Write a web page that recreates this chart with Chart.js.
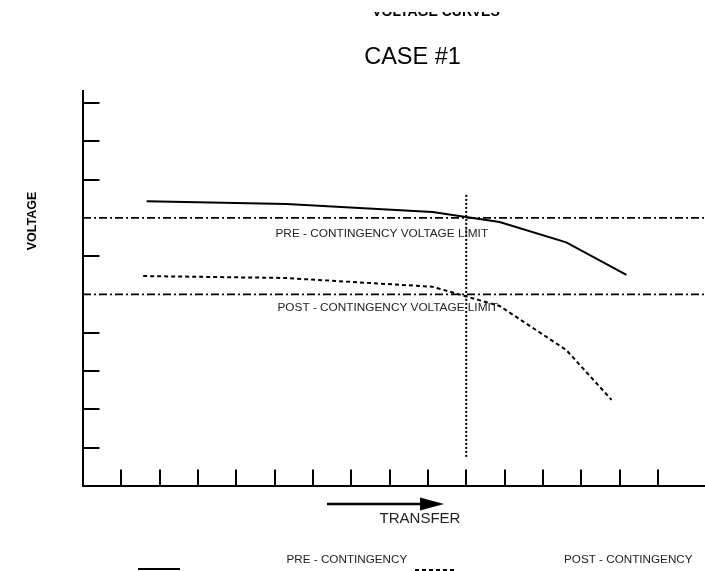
<!DOCTYPE html>
<html>
<head>
<meta charset="utf-8">
<title>Voltage Curves - Case #1</title>
<script src="https://cdn.jsdelivr.net/npm/chart.js@4/dist/chart.umd.min.js"></script>
<style>
  html, body { margin: 0; padding: 0; background: #fff; }
  /* the sheet is trimmed a little above the heading line */
  #sheet { position: absolute; left: 0; top: 12px; width: 705px; height: 559px; overflow: hidden; }
  #holder { position: absolute; left: 0; top: -12px; width: 705px; height: 571px; }
</style>
</head>
<body>
<div id="sheet"><div id="holder"><canvas id="curves" width="705" height="571"></canvas></div></div>
<script>
// Transfer level (x) and bus voltage (y) along each curve, in grid units
const transferPre  = [1.66, 5.31, 9.12, 10.87, 12.61, 14.18];
const voltagePre   = [7.43, 7.36, 7.15, 6.89, 6.36, 5.51];
const transferPost = [1.57, 5.26, 9.12, 10.87, 12.61, 13.79];
const voltagePost  = [5.48, 5.43, 5.20, 4.70, 3.55, 2.25];

// Voltage limits and the critical transfer level
const preLimit = 7;
const postLimit = 5;
const criticalTransfer = 10;
const criticalSpan = [0.76, 7.6];

// Axis extents and tick mark positions
const xRange = [0, 16.23];
const yRange = [0, 10.31];
const xTickMarks = [1, 2, 3, 4, 5, 6, 7, 8, 9, 10, 11, 12, 13, 14, 15];
const yTickMarks = [1, 2, 3, 4, 6, 8, 9, 10];

// Text
const titleText = 'VOLTAGE CURVES';
const subtitleText = 'CASE #1';
const yTitle = 'VOLTAGE';
const xTitle = 'TRANSFER';
const preLimitLabel = 'PRE - CONTINGENCY VOLTAGE LIMIT';
const postLimitLabel = 'POST - CONTINGENCY VOLTAGE LIMIT';
const preName = 'PRE - CONTINGENCY';
const postName = 'POST - CONTINGENCY';

const FONT = '"Liberation Sans", Arial, Helvetica, sans-serif';
const toPoints = (xs, ys) => xs.map((x, i) => ({ x, y: ys[i] }));

const preStyle  = { borderColor: '#000', borderWidth: 2, borderDash: [] };
const postStyle = { borderColor: '#000', borderWidth: 2, borderDash: [4, 3] };
const limitStyle = { borderColor: '#000', borderWidth: 1.8, borderDash: [8, 3, 2, 3] };

// Inward tick marks on both axes
const tickMarks = {
  id: 'tickMarks',
  afterDraw(chart) {
    const { ctx, chartArea: a, scales: { x, y } } = chart;
    ctx.save();
    ctx.strokeStyle = '#000';
    ctx.lineWidth = 2;
    ctx.beginPath();
    xTickMarks.forEach(v => {
      const px = Math.round(x.getPixelForValue(v));
      ctx.moveTo(px, a.bottom);
      ctx.lineTo(px, a.bottom - 16.5);
    });
    yTickMarks.forEach(v => {
      const py = Math.round(y.getPixelForValue(v));
      ctx.moveTo(a.left, py);
      ctx.lineTo(a.left + 16.5, py);
    });
    ctx.stroke();
    ctx.restore();
  }
};

// Headings, axis captions, limit captions and the key
const annotations = {
  id: 'annotations',
  afterDraw(chart) {
    const { ctx, scales: { y } } = chart;
    ctx.save();

    // headings
    ctx.fillStyle = '#000';
    ctx.textAlign = 'center';
    ctx.textBaseline = 'alphabetic';
    ctx.font = 'bold 14px ' + FONT;
    ctx.fillText(titleText, 436, 16);
    ctx.font = '23.5px ' + FONT;
    ctx.fillText(subtitleText, 412.5, 64.3);

    // vertical axis caption
    ctx.save();
    ctx.translate(33, 221);
    ctx.rotate(-Math.PI / 2);
    ctx.font = 'bold 12.5px ' + FONT;
    ctx.textBaseline = 'middle';
    ctx.fillText(yTitle, 0, 0);
    ctx.restore();

    // limit captions just under each limit line
    ctx.fillStyle = '#222';
    ctx.textAlign = 'left';
    ctx.textBaseline = 'middle';
    ctx.font = '11.8px ' + FONT;
    ctx.fillText(preLimitLabel, 275.5, y.getPixelForValue(preLimit) + 16);
    ctx.fillText(postLimitLabel, 277.5, y.getPixelForValue(postLimit) + 13);

    // transfer direction arrow and caption
    ctx.strokeStyle = '#000';
    ctx.fillStyle = '#000';
    ctx.lineWidth = 2.6;
    ctx.beginPath();
    ctx.moveTo(327, 504);
    ctx.lineTo(422, 504);
    ctx.stroke();
    ctx.beginPath();
    ctx.moveTo(420, 497.5);
    ctx.lineTo(444, 504);
    ctx.lineTo(420, 510.5);
    ctx.closePath();
    ctx.fill();
    ctx.fillStyle = '#222';
    ctx.textAlign = 'center';
    ctx.font = '15px ' + FONT;
    ctx.fillText(xTitle, 420, 519);

    // key
    const sample = (st, x0, x1, yy) => {
      ctx.save();
      ctx.strokeStyle = st.borderColor;
      ctx.lineWidth = st.borderWidth;
      ctx.setLineDash(st.borderDash);
      ctx.beginPath();
      ctx.moveTo(x0, yy);
      ctx.lineTo(x1, yy);
      ctx.stroke();
      ctx.restore();
    };
    sample(preStyle, 138, 180, 569);
    sample(postStyle, 415, 457, 570);
    ctx.fillStyle = '#222';
    ctx.textAlign = 'left';
    ctx.font = '11.7px ' + FONT;
    ctx.fillText(preName, 286.5, 560);
    ctx.fillText(postName, 564, 560);

    ctx.restore();
  }
};

new Chart(document.getElementById('curves'), {
  type: 'line',
  data: {
    datasets: [
      { label: preName, data: toPoints(transferPre, voltagePre), ...preStyle },
      { label: postName, data: toPoints(transferPost, voltagePost), ...postStyle },
      { label: preLimitLabel, data: toPoints(xRange, [preLimit, preLimit]), ...limitStyle },
      { label: postLimitLabel, data: toPoints(xRange, [postLimit, postLimit]), ...limitStyle },
      { label: 'critical', data: toPoints([criticalTransfer, criticalTransfer], criticalSpan),
        borderColor: '#000', borderWidth: 2, borderDash: [2, 2] }
    ]
  },
  options: {
    responsive: false,
    animation: false,
    elements: { point: { radius: 0, hoverRadius: 0 }, line: { tension: 0, fill: false } },
    layout: { padding: { left: 83, top: 91, right: 0, bottom: 85 } },
    plugins: { legend: { display: false }, title: { display: false }, tooltip: { enabled: false } },
    scales: {
      x: {
        type: 'linear', min: xRange[0], max: xRange[1],
        grid: { display: false, drawTicks: false },
        border: { display: true, width: 2, color: '#000' },
        ticks: { display: false }
      },
      y: {
        type: 'linear', min: yRange[0], max: yRange[1],
        grid: { display: false, drawTicks: false },
        border: { display: true, width: 2, color: '#000' },
        ticks: { display: false }
      }
    }
  },
  plugins: [tickMarks, annotations]
});
</script>
</body>
</html>
